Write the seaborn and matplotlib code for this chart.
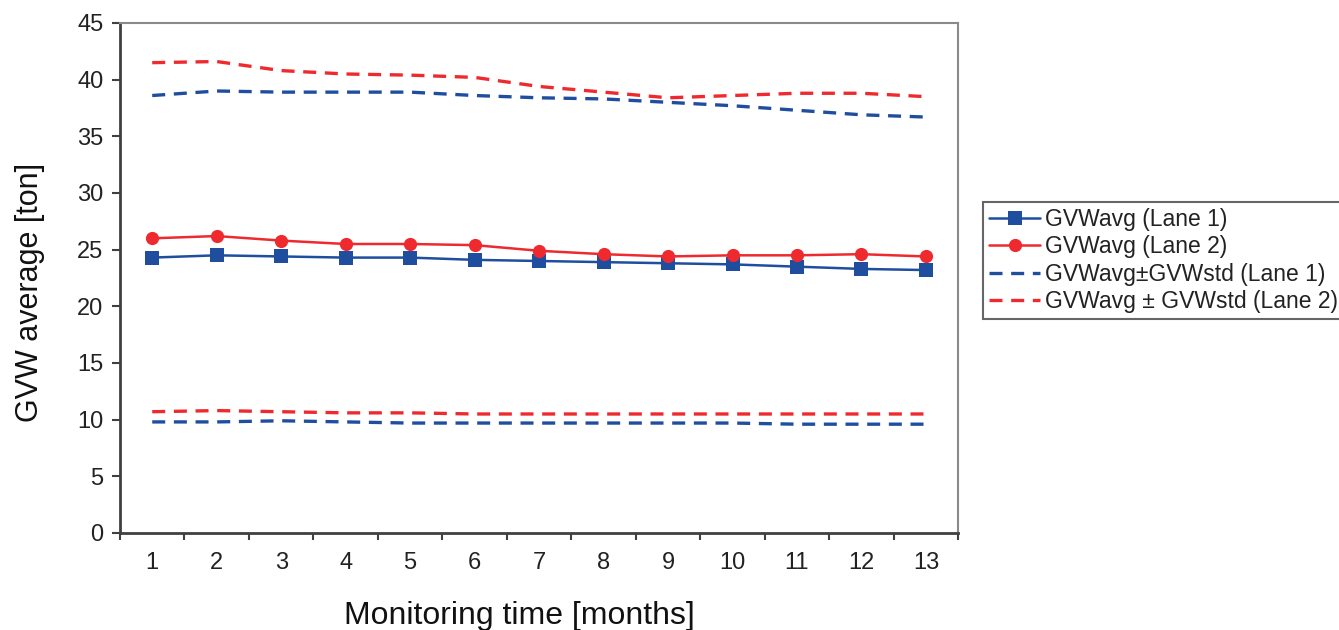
import matplotlib
matplotlib.use("Agg")
import matplotlib.pyplot as plt
import seaborn as sns
import pandas as pd
import numpy as np

months = list(range(1, 14))
avg_lane1 = [24.3, 24.5, 24.4, 24.3, 24.3, 24.1, 24.0, 23.9, 23.8, 23.7, 23.5, 23.3, 23.2]
avg_lane2 = [26.0, 26.2, 25.8, 25.5, 25.5, 25.4, 24.9, 24.6, 24.4, 24.5, 24.5, 24.6, 24.4]
upper_lane1 = [38.6, 39.0, 38.9, 38.9, 38.9, 38.6, 38.4, 38.3, 38.0, 37.7, 37.3, 36.9, 36.7]
upper_lane2 = [41.5, 41.6, 40.8, 40.5, 40.4, 40.2, 39.4, 38.9, 38.4, 38.6, 38.8, 38.8, 38.5]
lower_lane1 = [9.8, 9.8, 9.9, 9.8, 9.7, 9.7, 9.7, 9.7, 9.7, 9.7, 9.6, 9.6, 9.6]
lower_lane2 = [10.7, 10.8, 10.7, 10.6, 10.6, 10.5, 10.5, 10.5, 10.5, 10.5, 10.5, 10.5, 10.5]

labels = ["GVWavg (Lane 1)", "GVWavg (Lane 2)",
          "GVWavg\u00b1GVWstd (Lane 1)", "GVWavg \u00b1 GVWstd (Lane 2)"]

sns.set_style("white")
plt.rcParams['font.family'] = ['Liberation Sans', 'DejaVu Sans']

BLUE = "#1F4E9F"
RED = "#EE2A2F"

fig = plt.figure(figsize=(13.39, 6.30), dpi=100)
ax = fig.add_axes([0.0896, 0.154, 0.626, 0.8095])

dash = (0, (3.9, 2.6))
sns.lineplot(x=months, y=avg_lane1, ax=ax, color=BLUE, lw=1.8, marker="s",
             markersize=9.5, markeredgewidth=0, label=labels[0])
sns.lineplot(x=months, y=avg_lane2, ax=ax, color=RED, lw=1.8, marker="o",
             markersize=9.5, markeredgewidth=0, label=labels[1])
sns.lineplot(x=months, y=upper_lane1, ax=ax, color=BLUE, lw=2.4, label=labels[2])
sns.lineplot(x=months, y=upper_lane2, ax=ax, color=RED, lw=2.4, label=labels[3])
sns.lineplot(x=months, y=lower_lane1, ax=ax, color=BLUE, lw=2.4)
sns.lineplot(x=months, y=lower_lane2, ax=ax, color=RED, lw=2.4)
for ln in ax.get_lines()[2:]:
    ln.set_linestyle(dash)

ax.set_xlim(0.5, 13.5)
ax.set_ylim(0, 45)
ax.set_yticks(np.arange(0, 46, 5))
ax.set_xticks(months)
ax.set_xticklabels([str(m) for m in months])
ax.set_xticks(np.arange(0.5, 14, 1), minor=True)
ax.tick_params(axis='x', which='major', length=0, pad=14, labelsize=17, colors='#222222')
ax.tick_params(axis='x', which='minor', length=5, width=1.5, direction='out', color='#404040', bottom=True)
ax.tick_params(axis='y', length=6, width=1.5, direction='out', color='#404040', left=True,
               labelsize=17, colors='#222222', pad=6)
for s in ['left', 'bottom']:
    ax.spines[s].set_color('#404040')
    ax.spines[s].set_linewidth(2)
for s in ['top', 'right']:
    ax.spines[s].set_color('#8a8a8a')
    ax.spines[s].set_linewidth(1.5)

ax.set_xlabel("Monitoring time [months]", fontsize=23, color='#111111')
ax.set_ylabel("GVW average [ton]", fontsize=22, color='#111111')
ax.xaxis.set_label_coords(0.476, -0.134)
ax.yaxis.set_label_coords(-0.09, 0.472)

leg = ax.legend(loc='upper left', bbox_to_anchor=(983/1339, 1 - 202/630),
                bbox_transform=fig.transFigure, fontsize=16.5, frameon=True,
                fancybox=False, edgecolor='#404040', handlelength=2.25,
                handletextpad=0.2, labelspacing=0.2, borderpad=0.25,
                borderaxespad=0)
leg.get_frame().set_linewidth(1.5)
for t in leg.get_texts():
    t.set_color('#222222')

fig.savefig("out.png", dpi=100)
